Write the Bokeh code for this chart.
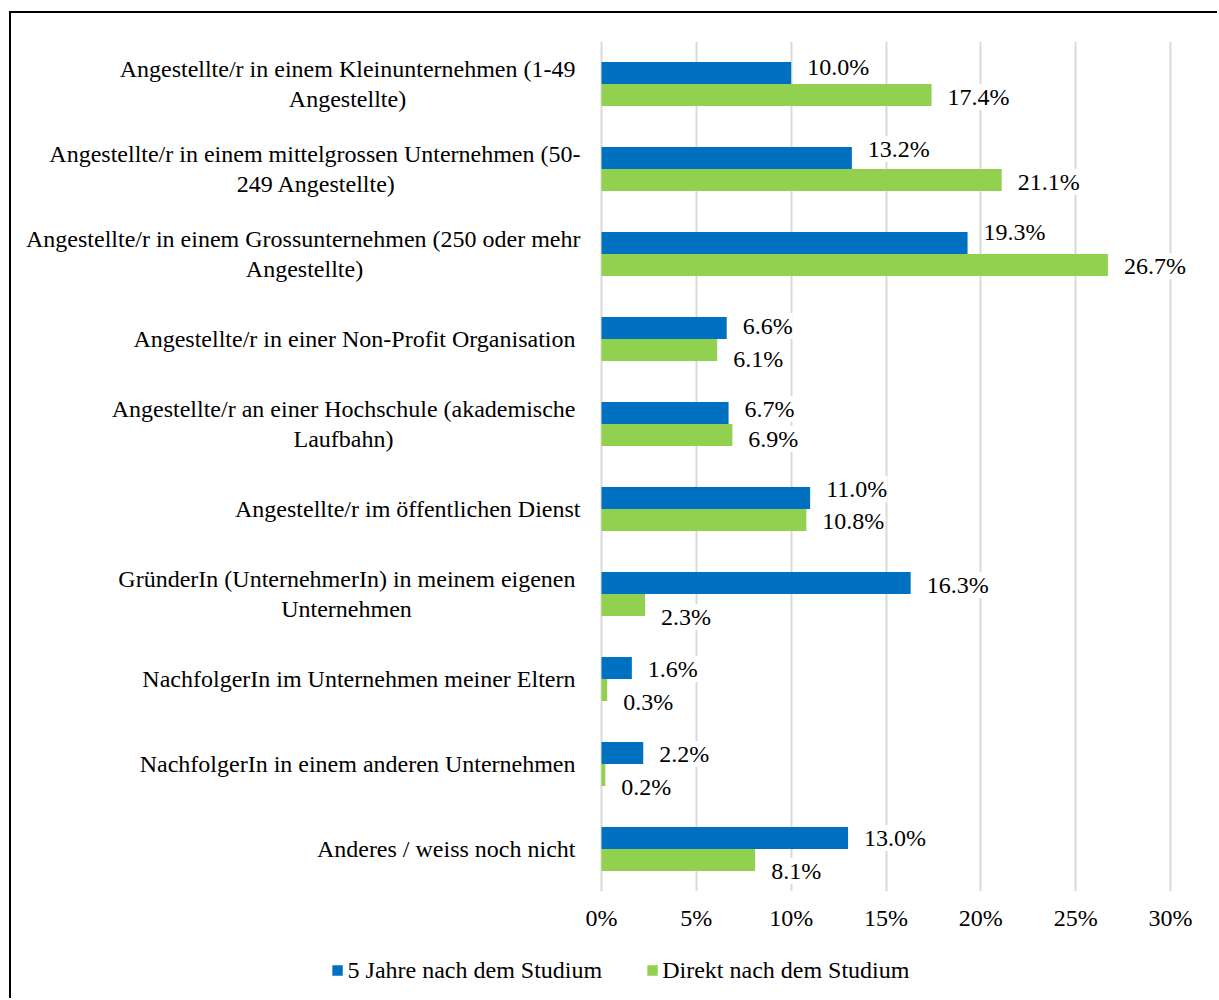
from bokeh.plotting import figure
from bokeh.layouts import column
from bokeh.models import (ColumnDataSource, FactorRange, Range1d, LabelSet, Legend,
                          LegendItem, NumeralTickFormatter, FixedTicker)
from bokeh.transform import dodge
from bokeh.embed import file_html
from bokeh.resources import INLINE
from bokeh.core.properties import value

# ---------------- data ----------------
categories = [
    "Angestellte/r in einem Kleinunternehmen (1-49 Angestellte)",
    "Angestellte/r in einem mittelgrossen Unternehmen (50-249 Angestellte)",
    "Angestellte/r in einem Grossunternehmen (250 oder mehr Angestellte)",
    "Angestellte/r in einer Non-Profit Organisation",
    "Angestellte/r an einer Hochschule (akademische Laufbahn)",
    "Angestellte/r im öffentlichen Dienst",
    "GründerIn (UnternehmerIn) in meinem eigenen Unternehmen",
    "NachfolgerIn im Unternehmen meiner Eltern",
    "NachfolgerIn in einem anderen Unternehmen",
    "Anderes / weiss noch nicht",
]
category_lines = [
    ["Angestellte/r in einem Kleinunternehmen (1-49", "Angestellte)"],
    ["Angestellte/r in einem mittelgrossen Unternehmen (50-", "249 Angestellte)"],
    ["Angestellte/r in einem Grossunternehmen (250 oder mehr", "Angestellte)"],
    ["Angestellte/r in einer Non-Profit Organisation"],
    ["Angestellte/r an einer Hochschule (akademische", "Laufbahn)"],
    ["Angestellte/r im öffentlichen Dienst"],
    ["GründerIn (UnternehmerIn) in meinem eigenen", "Unternehmen"],
    ["NachfolgerIn im Unternehmen meiner Eltern"],
    ["NachfolgerIn in einem anderen Unternehmen"],
    ["Anderes / weiss noch nicht"],
]
series_names = ["5 Jahre nach dem Studium", "Direkt nach dem Studium"]
values_5_jahre = [0.100, 0.132, 0.193, 0.066, 0.067, 0.110, 0.163, 0.016, 0.022, 0.130]
values_direkt = [0.174, 0.211, 0.267, 0.061, 0.069, 0.108, 0.023, 0.003, 0.002, 0.081]
x_ticks = [0.0, 0.05, 0.10, 0.15, 0.20, 0.25, 0.30]

# ---------------- layout / style ----------------
FONT = "Liberation Serif"
FS = "24px"
BLUE = "#0070C0"
GREEN = "#92D050"
BAR_H = 0.259
OFF = 0.129
ORIGIN_X, ORIGIN_Y = 11, 13        # page position of the canvas (after border)
W = 1206                           # canvas width
LEFT_BORDER = 12                   # canvas px left of the frame
FRAME_L_PAGE = ORIGIN_X + LEFT_BORDER
FRAME_T_PAGE, FRAME_B_PAGE = 41, 891
ZERO_PX, FULL_PX = 601, 1170       # page x of 0 % and 30 %
AXIS_BOTTOM = 50                   # space under the frame for tick labels
LEGEND_H = 57
unit_per_px = (x_ticks[-1] - x_ticks[0]) / (FULL_PX - ZERO_PX)
x_start = -(ZERO_PX - FRAME_L_PAGE) * unit_per_px
x_end = x_ticks[-1] + (ORIGIN_X + W - FULL_PX) * unit_per_px
# screen x-offsets of the label lines (layout only)
line1_right = [-26, -21, -21, -26, -26, -21, -26, -26, -26, -26]
line2_center = [-254, -285, -297, 0, -258, 0, -255, 0, 0, 0]
# vertical screen shift (px, + = down) of the value labels, as placed in the original
dy_5 = [-6, -9, -11, -2, -4, -9, 2, 1, 1, 0]
dy_d = [2, 2, 1, 9, 4, 1, 12, 12, 12, 11]

src = ColumnDataSource(dict(
    cat=categories,
    v5=values_5_jahre,
    vd=values_direkt,
    t5=[f"{v*100:.1f}%" for v in values_5_jahre],
    td=[f"{v*100:.1f}%" for v in values_direkt],
    o5=[-d for d in dy_5],
    od=[-d for d in dy_d],
))

p = figure(frame_width=W - LEFT_BORDER,
           frame_height=FRAME_B_PAGE - FRAME_T_PAGE,
           output_backend="svg", toolbar_location=None, y_axis_location=None,
           y_range=FactorRange(factors=categories[::-1]),
           x_range=Range1d(x_start, x_end),
           min_border_left=LEFT_BORDER, min_border_right=0,
           min_border_top=FRAME_T_PAGE - ORIGIN_Y, min_border_bottom=AXIS_BOTTOM)
p.outline_line_color = None
p.background_fill_color = "white"
p.border_fill_color = "white"

r5 = p.hbar(y=dodge("cat", OFF, range=p.y_range), right="v5", left=0, height=BAR_H,
            source=src, fill_color=BLUE, line_color=None)
rd = p.hbar(y=dodge("cat", -OFF, range=p.y_range), right="vd", left=0, height=BAR_H,
            source=src, fill_color=GREEN, line_color=None)

p.xgrid.ticker = FixedTicker(ticks=x_ticks)
p.xgrid.grid_line_color = "#d9d9d9"
p.xgrid.grid_line_width = 2
p.ygrid.visible = False

xa = p.xaxis[0]
xa.ticker = FixedTicker(ticks=x_ticks)
xa.formatter = NumeralTickFormatter(format="0%")
xa.axis_line_color = None
xa.major_tick_line_color = None
xa.minor_tick_line_color = None
xa.major_label_text_font = FONT
xa.major_label_text_font_size = FS
xa.major_label_text_color = "#000000"
xa.major_label_standoff = 7

# value labels
def value_labels(xfield, tfield, dy_data, yfield):
    kw = dict(x=xfield, y=dodge("cat", dy_data, range=p.y_range), text=tfield, source=src,
              x_offset=16, y_offset=yfield, text_align="left", text_baseline="middle",
              text_font=value(FONT), text_font_size=FS, text_color="#000000",
              background_fill_color="white")
    if "padding" in LabelSet.properties():
        kw["padding"] = 6
    return LabelSet(**kw)

p.add_layout(value_labels("v5", "t5", OFF, "o5"))
p.add_layout(value_labels("vd", "td", -OFF, "od"))

# category labels (text glyphs left of the zero line)
lc, lt, lx, ly, la = [], [], [], [], []
for i, (c, lines) in enumerate(zip(categories, category_lines)):
    if len(lines) == 1:
        lc.append(c); lt.append(lines[0]); lx.append(line1_right[i]); ly.append(0); la.append("right")
    else:
        lc.append(c); lt.append(lines[0]); lx.append(line1_right[i]); ly.append(-15); la.append("right")
        lc.append(c); lt.append(lines[1]); lx.append(line2_center[i]); ly.append(15); la.append("center")
csrc = ColumnDataSource(dict(cat=lc, text=lt, xo=lx, yo=ly, al=la, x0=[0.0]*len(lc)))
p.text(x="x0", y="cat", text="text", source=csrc, x_offset="xo", y_offset="yo",
       text_align="al", text_baseline="middle", text_font=value(FONT),
       text_font_size=FS, text_color="#000000")

# legend strip below the chart (proxy glyphs lie outside its visible range)
p2 = figure(width=W, height=LEGEND_H, output_backend="svg", toolbar_location=None,
            x_axis_type=None, y_axis_type=None, x_range=Range1d(0, 1), y_range=Range1d(0, 1),
            min_border_left=12, min_border_right=0, min_border_top=0, min_border_bottom=0)
p2.outline_line_color = None
p2.xgrid.visible = False
p2.ygrid.visible = False
lg5 = p2.hbar(y=[-1.0], left=[0.0], right=[0.0], height=0.5, fill_color=BLUE, line_color=None)
lgd = p2.hbar(y=[-1.0], left=[0.0], right=[0.0], height=0.5, fill_color=GREEN, line_color=None)
legend = Legend(items=[LegendItem(label=series_names[0], renderers=[lg5]),
                       LegendItem(label=series_names[1], renderers=[lgd])],
                orientation="horizontal", location="center")
legend.label_text_font = FONT
legend.label_text_font_size = FS
legend.label_text_color = "#000000"
legend.glyph_width = 13
legend.glyph_height = 13
legend.label_standoff = 4
legend.spacing = 43
legend.border_line_color = None
legend.background_fill_alpha = 0
legend.padding = 0
legend.margin = 0
p2.add_layout(legend, "center")

layout = column(p, p2, spacing=0)
layout.styles = {"border-left": "2px solid #000000", "border-top": "2px solid #000000",
                 "margin-left": f"{ORIGIN_X - 2}px", "margin-top": f"{ORIGIN_Y - 2}px"}

open("out.html", "w").write(file_html(layout, INLINE))
